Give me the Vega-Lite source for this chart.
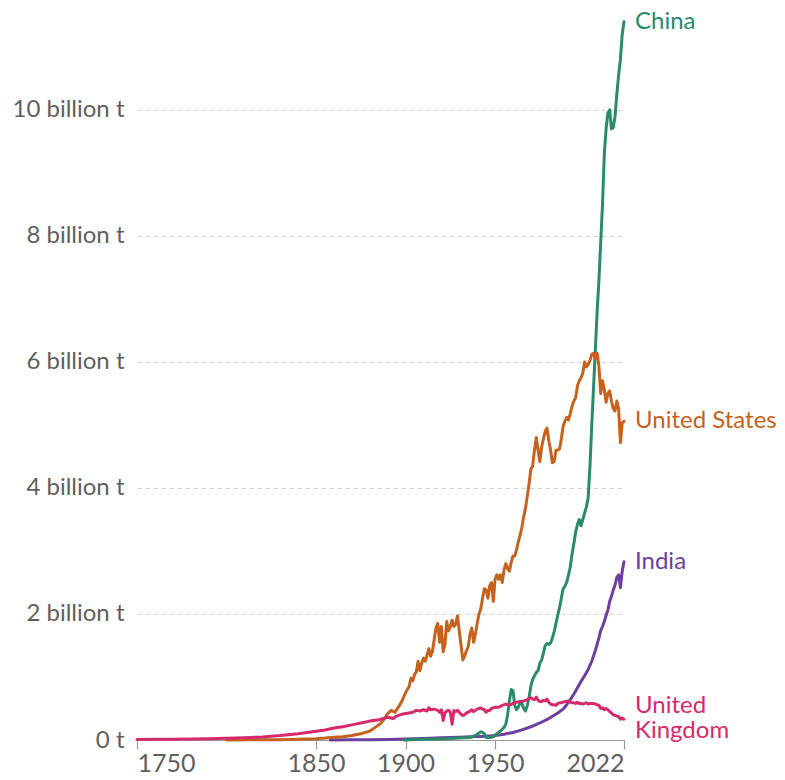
{
  "$schema": "https://vega.github.io/schema/vega-lite/v6.json",
  "autosize": "none",
  "padding": {"left": 137, "top": 16, "right": 161, "bottom": 40},
  "width": 487,
  "height": 724,
  "background": "white",
  "config": {"view": {"stroke": null}, "font": "Lato"},
  "datasets": {
    "labels": [
      {"country": "China", "label": "China"},
      {"country": "United States", "label": "United States"},
      {"country": "India", "label": "India"},
      {"country": "United Kingdom", "label": "United\nKingdom"}
    ],
    "series": [
      {"country": "India", "year": 1858, "value": 0.0003},
      {"country": "India", "year": 1870, "value": 0.002},
      {"country": "India", "year": 1880, "value": 0.004},
      {"country": "India", "year": 1890, "value": 0.008},
      {"country": "India", "year": 1900, "value": 0.016},
      {"country": "India", "year": 1910, "value": 0.025},
      {"country": "India", "year": 1920, "value": 0.035},
      {"country": "India", "year": 1930, "value": 0.045},
      {"country": "India", "year": 1940, "value": 0.055},
      {"country": "India", "year": 1945, "value": 0.06},
      {"country": "India", "year": 1950, "value": 0.07},
      {"country": "India", "year": 1955, "value": 0.09},
      {"country": "India", "year": 1960, "value": 0.12},
      {"country": "India", "year": 1965, "value": 0.16},
      {"country": "India", "year": 1970, "value": 0.21},
      {"country": "India", "year": 1975, "value": 0.27},
      {"country": "India", "year": 1980, "value": 0.34},
      {"country": "India", "year": 1985, "value": 0.43},
      {"country": "India", "year": 1988, "value": 0.49},
      {"country": "India", "year": 1990, "value": 0.56},
      {"country": "India", "year": 1992, "value": 0.64},
      {"country": "India", "year": 1994, "value": 0.73},
      {"country": "India", "year": 1996, "value": 0.83},
      {"country": "India", "year": 1998, "value": 0.93},
      {"country": "India", "year": 2000, "value": 1.02},
      {"country": "India", "year": 2002, "value": 1.12},
      {"country": "India", "year": 2004, "value": 1.25},
      {"country": "India", "year": 2006, "value": 1.42},
      {"country": "India", "year": 2007, "value": 1.52},
      {"country": "India", "year": 2008, "value": 1.62},
      {"country": "India", "year": 2009, "value": 1.74},
      {"country": "India", "year": 2010, "value": 1.8},
      {"country": "India", "year": 2011, "value": 1.88},
      {"country": "India", "year": 2012, "value": 1.98},
      {"country": "India", "year": 2013, "value": 2.06},
      {"country": "India", "year": 2014, "value": 2.2},
      {"country": "India", "year": 2015, "value": 2.28},
      {"country": "India", "year": 2016, "value": 2.38},
      {"country": "India", "year": 2017, "value": 2.46},
      {"country": "India", "year": 2018, "value": 2.58},
      {"country": "India", "year": 2019, "value": 2.62},
      {"country": "India", "year": 2020, "value": 2.42},
      {"country": "India", "year": 2021, "value": 2.68},
      {"country": "India", "year": 2022, "value": 2.83},

      {"country": "China", "year": 1899, "value": 0.001},
      {"country": "China", "year": 1910, "value": 0.01},
      {"country": "China", "year": 1920, "value": 0.015},
      {"country": "China", "year": 1930, "value": 0.03},
      {"country": "China", "year": 1936, "value": 0.04},
      {"country": "China", "year": 1938, "value": 0.06},
      {"country": "China", "year": 1940, "value": 0.09},
      {"country": "China", "year": 1942, "value": 0.13},
      {"country": "China", "year": 1943, "value": 0.12},
      {"country": "China", "year": 1944, "value": 0.1},
      {"country": "China", "year": 1945, "value": 0.04},
      {"country": "China", "year": 1947, "value": 0.04},
      {"country": "China", "year": 1949, "value": 0.05},
      {"country": "China", "year": 1950, "value": 0.08},
      {"country": "China", "year": 1952, "value": 0.12},
      {"country": "China", "year": 1954, "value": 0.17},
      {"country": "China", "year": 1955, "value": 0.2},
      {"country": "China", "year": 1956, "value": 0.25},
      {"country": "China", "year": 1957, "value": 0.4},
      {"country": "China", "year": 1958, "value": 0.62},
      {"country": "China", "year": 1959, "value": 0.8},
      {"country": "China", "year": 1960, "value": 0.78},
      {"country": "China", "year": 1961, "value": 0.55},
      {"country": "China", "year": 1962, "value": 0.48},
      {"country": "China", "year": 1963, "value": 0.52},
      {"country": "China", "year": 1964, "value": 0.6},
      {"country": "China", "year": 1965, "value": 0.58},
      {"country": "China", "year": 1966, "value": 0.5},
      {"country": "China", "year": 1967, "value": 0.46},
      {"country": "China", "year": 1968, "value": 0.55},
      {"country": "China", "year": 1969, "value": 0.68},
      {"country": "China", "year": 1970, "value": 0.86},
      {"country": "China", "year": 1971, "value": 0.96},
      {"country": "China", "year": 1972, "value": 1.02},
      {"country": "China", "year": 1973, "value": 1.07},
      {"country": "China", "year": 1974, "value": 1.1},
      {"country": "China", "year": 1975, "value": 1.22},
      {"country": "China", "year": 1976, "value": 1.27},
      {"country": "China", "year": 1977, "value": 1.38},
      {"country": "China", "year": 1978, "value": 1.5},
      {"country": "China", "year": 1979, "value": 1.53},
      {"country": "China", "year": 1980, "value": 1.52},
      {"country": "China", "year": 1981, "value": 1.54},
      {"country": "China", "year": 1982, "value": 1.62},
      {"country": "China", "year": 1983, "value": 1.72},
      {"country": "China", "year": 1984, "value": 1.85},
      {"country": "China", "year": 1985, "value": 1.98},
      {"country": "China", "year": 1986, "value": 2.1},
      {"country": "China", "year": 1987, "value": 2.25},
      {"country": "China", "year": 1988, "value": 2.4},
      {"country": "China", "year": 1989, "value": 2.44},
      {"country": "China", "year": 1990, "value": 2.5},
      {"country": "China", "year": 1991, "value": 2.62},
      {"country": "China", "year": 1992, "value": 2.75},
      {"country": "China", "year": 1993, "value": 2.95},
      {"country": "China", "year": 1994, "value": 3.12},
      {"country": "China", "year": 1995, "value": 3.3},
      {"country": "China", "year": 1996, "value": 3.42},
      {"country": "China", "year": 1997, "value": 3.5},
      {"country": "China", "year": 1998, "value": 3.4},
      {"country": "China", "year": 1999, "value": 3.5},
      {"country": "China", "year": 2000, "value": 3.6},
      {"country": "China", "year": 2001, "value": 3.7},
      {"country": "China", "year": 2002, "value": 3.85},
      {"country": "China", "year": 2003, "value": 4.35},
      {"country": "China", "year": 2004, "value": 5.0},
      {"country": "China", "year": 2005, "value": 5.6},
      {"country": "China", "year": 2006, "value": 6.2},
      {"country": "China", "year": 2007, "value": 6.8},
      {"country": "China", "year": 2008, "value": 7.3},
      {"country": "China", "year": 2009, "value": 7.9},
      {"country": "China", "year": 2010, "value": 8.5},
      {"country": "China", "year": 2011, "value": 9.3},
      {"country": "China", "year": 2012, "value": 9.7},
      {"country": "China", "year": 2013, "value": 9.95},
      {"country": "China", "year": 2014, "value": 10.0},
      {"country": "China", "year": 2015, "value": 9.7},
      {"country": "China", "year": 2016, "value": 9.72},
      {"country": "China", "year": 2017, "value": 9.9},
      {"country": "China", "year": 2018, "value": 10.25},
      {"country": "China", "year": 2019, "value": 10.55},
      {"country": "China", "year": 2020, "value": 10.8},
      {"country": "China", "year": 2021, "value": 11.2},
      {"country": "China", "year": 2022, "value": 11.4},

      {"country": "United States", "year": 1800, "value": 0.001},
      {"country": "United States", "year": 1820, "value": 0.003},
      {"country": "United States", "year": 1830, "value": 0.005},
      {"country": "United States", "year": 1840, "value": 0.01},
      {"country": "United States", "year": 1850, "value": 0.02},
      {"country": "United States", "year": 1855, "value": 0.03},
      {"country": "United States", "year": 1860, "value": 0.045},
      {"country": "United States", "year": 1865, "value": 0.05},
      {"country": "United States", "year": 1870, "value": 0.07},
      {"country": "United States", "year": 1875, "value": 0.1},
      {"country": "United States", "year": 1880, "value": 0.14},
      {"country": "United States", "year": 1883, "value": 0.2},
      {"country": "United States", "year": 1886, "value": 0.26},
      {"country": "United States", "year": 1888, "value": 0.33},
      {"country": "United States", "year": 1890, "value": 0.42},
      {"country": "United States", "year": 1892, "value": 0.47},
      {"country": "United States", "year": 1894, "value": 0.44},
      {"country": "United States", "year": 1896, "value": 0.52},
      {"country": "United States", "year": 1898, "value": 0.62},
      {"country": "United States", "year": 1900, "value": 0.75},
      {"country": "United States", "year": 1902, "value": 0.85},
      {"country": "United States", "year": 1903, "value": 0.98},
      {"country": "United States", "year": 1904, "value": 0.94},
      {"country": "United States", "year": 1905, "value": 1.04},
      {"country": "United States", "year": 1906, "value": 1.08},
      {"country": "United States", "year": 1907, "value": 1.25},
      {"country": "United States", "year": 1908, "value": 1.1},
      {"country": "United States", "year": 1909, "value": 1.22},
      {"country": "United States", "year": 1910, "value": 1.3},
      {"country": "United States", "year": 1911, "value": 1.25},
      {"country": "United States", "year": 1912, "value": 1.35},
      {"country": "United States", "year": 1913, "value": 1.45},
      {"country": "United States", "year": 1914, "value": 1.33},
      {"country": "United States", "year": 1915, "value": 1.4},
      {"country": "United States", "year": 1916, "value": 1.6},
      {"country": "United States", "year": 1917, "value": 1.78},
      {"country": "United States", "year": 1918, "value": 1.85},
      {"country": "United States", "year": 1919, "value": 1.55},
      {"country": "United States", "year": 1920, "value": 1.8},
      {"country": "United States", "year": 1921, "value": 1.4},
      {"country": "United States", "year": 1922, "value": 1.52},
      {"country": "United States", "year": 1923, "value": 1.88},
      {"country": "United States", "year": 1924, "value": 1.73},
      {"country": "United States", "year": 1925, "value": 1.8},
      {"country": "United States", "year": 1926, "value": 1.9},
      {"country": "United States", "year": 1927, "value": 1.8},
      {"country": "United States", "year": 1928, "value": 1.84},
      {"country": "United States", "year": 1929, "value": 1.97},
      {"country": "United States", "year": 1930, "value": 1.73},
      {"country": "United States", "year": 1931, "value": 1.5},
      {"country": "United States", "year": 1932, "value": 1.27},
      {"country": "United States", "year": 1933, "value": 1.33},
      {"country": "United States", "year": 1934, "value": 1.42},
      {"country": "United States", "year": 1935, "value": 1.48},
      {"country": "United States", "year": 1936, "value": 1.68},
      {"country": "United States", "year": 1937, "value": 1.78},
      {"country": "United States", "year": 1938, "value": 1.55},
      {"country": "United States", "year": 1939, "value": 1.68},
      {"country": "United States", "year": 1940, "value": 1.85},
      {"country": "United States", "year": 1941, "value": 2.0},
      {"country": "United States", "year": 1942, "value": 2.08},
      {"country": "United States", "year": 1943, "value": 2.25},
      {"country": "United States", "year": 1944, "value": 2.4},
      {"country": "United States", "year": 1945, "value": 2.38},
      {"country": "United States", "year": 1946, "value": 2.25},
      {"country": "United States", "year": 1947, "value": 2.45},
      {"country": "United States", "year": 1948, "value": 2.5},
      {"country": "United States", "year": 1949, "value": 2.2},
      {"country": "United States", "year": 1950, "value": 2.55},
      {"country": "United States", "year": 1951, "value": 2.62},
      {"country": "United States", "year": 1952, "value": 2.55},
      {"country": "United States", "year": 1953, "value": 2.62},
      {"country": "United States", "year": 1954, "value": 2.5},
      {"country": "United States", "year": 1955, "value": 2.7},
      {"country": "United States", "year": 1956, "value": 2.8},
      {"country": "United States", "year": 1957, "value": 2.72},
      {"country": "United States", "year": 1958, "value": 2.68},
      {"country": "United States", "year": 1959, "value": 2.82},
      {"country": "United States", "year": 1960, "value": 2.92},
      {"country": "United States", "year": 1961, "value": 2.92},
      {"country": "United States", "year": 1962, "value": 3.02},
      {"country": "United States", "year": 1963, "value": 3.15},
      {"country": "United States", "year": 1964, "value": 3.25},
      {"country": "United States", "year": 1965, "value": 3.38},
      {"country": "United States", "year": 1966, "value": 3.55},
      {"country": "United States", "year": 1967, "value": 3.68},
      {"country": "United States", "year": 1968, "value": 3.87},
      {"country": "United States", "year": 1969, "value": 4.07},
      {"country": "United States", "year": 1970, "value": 4.3},
      {"country": "United States", "year": 1971, "value": 4.35},
      {"country": "United States", "year": 1972, "value": 4.6},
      {"country": "United States", "year": 1973, "value": 4.8},
      {"country": "United States", "year": 1974, "value": 4.6},
      {"country": "United States", "year": 1975, "value": 4.42},
      {"country": "United States", "year": 1976, "value": 4.65},
      {"country": "United States", "year": 1977, "value": 4.78},
      {"country": "United States", "year": 1978, "value": 4.9},
      {"country": "United States", "year": 1979, "value": 4.95},
      {"country": "United States", "year": 1980, "value": 4.75},
      {"country": "United States", "year": 1981, "value": 4.6},
      {"country": "United States", "year": 1982, "value": 4.4},
      {"country": "United States", "year": 1983, "value": 4.42},
      {"country": "United States", "year": 1984, "value": 4.6},
      {"country": "United States", "year": 1985, "value": 4.6},
      {"country": "United States", "year": 1986, "value": 4.62},
      {"country": "United States", "year": 1987, "value": 4.78},
      {"country": "United States", "year": 1988, "value": 4.98},
      {"country": "United States", "year": 1989, "value": 5.06},
      {"country": "United States", "year": 1990, "value": 5.12},
      {"country": "United States", "year": 1991, "value": 5.08},
      {"country": "United States", "year": 1992, "value": 5.18},
      {"country": "United States", "year": 1993, "value": 5.3},
      {"country": "United States", "year": 1994, "value": 5.38},
      {"country": "United States", "year": 1995, "value": 5.43},
      {"country": "United States", "year": 1996, "value": 5.62},
      {"country": "United States", "year": 1997, "value": 5.7},
      {"country": "United States", "year": 1998, "value": 5.75},
      {"country": "United States", "year": 1999, "value": 5.82},
      {"country": "United States", "year": 2000, "value": 6.0},
      {"country": "United States", "year": 2001, "value": 5.92},
      {"country": "United States", "year": 2002, "value": 5.96},
      {"country": "United States", "year": 2003, "value": 6.02},
      {"country": "United States", "year": 2004, "value": 6.12},
      {"country": "United States", "year": 2005, "value": 6.14},
      {"country": "United States", "year": 2006, "value": 6.05},
      {"country": "United States", "year": 2007, "value": 6.14},
      {"country": "United States", "year": 2008, "value": 5.93},
      {"country": "United States", "year": 2009, "value": 5.5},
      {"country": "United States", "year": 2010, "value": 5.7},
      {"country": "United States", "year": 2011, "value": 5.56},
      {"country": "United States", "year": 2012, "value": 5.36},
      {"country": "United States", "year": 2013, "value": 5.5},
      {"country": "United States", "year": 2014, "value": 5.54},
      {"country": "United States", "year": 2015, "value": 5.38},
      {"country": "United States", "year": 2016, "value": 5.26},
      {"country": "United States", "year": 2017, "value": 5.22},
      {"country": "United States", "year": 2018, "value": 5.38},
      {"country": "United States", "year": 2019, "value": 5.26},
      {"country": "United States", "year": 2020, "value": 4.72},
      {"country": "United States", "year": 2021, "value": 5.03},
      {"country": "United States", "year": 2022, "value": 5.06},

      {"country": "United Kingdom", "year": 1750, "value": 0.009},
      {"country": "United Kingdom", "year": 1760, "value": 0.01},
      {"country": "United Kingdom", "year": 1770, "value": 0.012},
      {"country": "United Kingdom", "year": 1780, "value": 0.014},
      {"country": "United Kingdom", "year": 1790, "value": 0.019},
      {"country": "United Kingdom", "year": 1800, "value": 0.026},
      {"country": "United Kingdom", "year": 1810, "value": 0.035},
      {"country": "United Kingdom", "year": 1820, "value": 0.048},
      {"country": "United Kingdom", "year": 1830, "value": 0.07},
      {"country": "United Kingdom", "year": 1840, "value": 0.1},
      {"country": "United Kingdom", "year": 1850, "value": 0.14},
      {"country": "United Kingdom", "year": 1855, "value": 0.16},
      {"country": "United Kingdom", "year": 1860, "value": 0.19},
      {"country": "United Kingdom", "year": 1865, "value": 0.21},
      {"country": "United Kingdom", "year": 1870, "value": 0.24},
      {"country": "United Kingdom", "year": 1875, "value": 0.27},
      {"country": "United Kingdom", "year": 1880, "value": 0.3},
      {"country": "United Kingdom", "year": 1885, "value": 0.32},
      {"country": "United Kingdom", "year": 1890, "value": 0.36},
      {"country": "United Kingdom", "year": 1893, "value": 0.34},
      {"country": "United Kingdom", "year": 1895, "value": 0.38},
      {"country": "United Kingdom", "year": 1898, "value": 0.41},
      {"country": "United Kingdom", "year": 1900, "value": 0.42},
      {"country": "United Kingdom", "year": 1902, "value": 0.43},
      {"country": "United Kingdom", "year": 1904, "value": 0.44},
      {"country": "United Kingdom", "year": 1906, "value": 0.47},
      {"country": "United Kingdom", "year": 1908, "value": 0.46},
      {"country": "United Kingdom", "year": 1910, "value": 0.48},
      {"country": "United Kingdom", "year": 1912, "value": 0.46},
      {"country": "United Kingdom", "year": 1913, "value": 0.51},
      {"country": "United Kingdom", "year": 1914, "value": 0.48},
      {"country": "United Kingdom", "year": 1916, "value": 0.49},
      {"country": "United Kingdom", "year": 1918, "value": 0.47},
      {"country": "United Kingdom", "year": 1919, "value": 0.44},
      {"country": "United Kingdom", "year": 1920, "value": 0.48},
      {"country": "United Kingdom", "year": 1921, "value": 0.31},
      {"country": "United Kingdom", "year": 1922, "value": 0.43},
      {"country": "United Kingdom", "year": 1923, "value": 0.46},
      {"country": "United Kingdom", "year": 1924, "value": 0.47},
      {"country": "United Kingdom", "year": 1925, "value": 0.44},
      {"country": "United Kingdom", "year": 1926, "value": 0.25},
      {"country": "United Kingdom", "year": 1927, "value": 0.47},
      {"country": "United Kingdom", "year": 1928, "value": 0.45},
      {"country": "United Kingdom", "year": 1929, "value": 0.47},
      {"country": "United Kingdom", "year": 1930, "value": 0.44},
      {"country": "United Kingdom", "year": 1931, "value": 0.41},
      {"country": "United Kingdom", "year": 1932, "value": 0.39},
      {"country": "United Kingdom", "year": 1933, "value": 0.4},
      {"country": "United Kingdom", "year": 1934, "value": 0.43},
      {"country": "United Kingdom", "year": 1935, "value": 0.44},
      {"country": "United Kingdom", "year": 1936, "value": 0.46},
      {"country": "United Kingdom", "year": 1937, "value": 0.48},
      {"country": "United Kingdom", "year": 1938, "value": 0.45},
      {"country": "United Kingdom", "year": 1939, "value": 0.47},
      {"country": "United Kingdom", "year": 1940, "value": 0.49},
      {"country": "United Kingdom", "year": 1941, "value": 0.5},
      {"country": "United Kingdom", "year": 1942, "value": 0.51},
      {"country": "United Kingdom", "year": 1943, "value": 0.49},
      {"country": "United Kingdom", "year": 1944, "value": 0.48},
      {"country": "United Kingdom", "year": 1945, "value": 0.44},
      {"country": "United Kingdom", "year": 1946, "value": 0.47},
      {"country": "United Kingdom", "year": 1947, "value": 0.47},
      {"country": "United Kingdom", "year": 1948, "value": 0.5},
      {"country": "United Kingdom", "year": 1949, "value": 0.51},
      {"country": "United Kingdom", "year": 1950, "value": 0.52},
      {"country": "United Kingdom", "year": 1952, "value": 0.52},
      {"country": "United Kingdom", "year": 1954, "value": 0.55},
      {"country": "United Kingdom", "year": 1956, "value": 0.57},
      {"country": "United Kingdom", "year": 1958, "value": 0.55},
      {"country": "United Kingdom", "year": 1960, "value": 0.58},
      {"country": "United Kingdom", "year": 1962, "value": 0.6},
      {"country": "United Kingdom", "year": 1964, "value": 0.61},
      {"country": "United Kingdom", "year": 1966, "value": 0.62},
      {"country": "United Kingdom", "year": 1968, "value": 0.64},
      {"country": "United Kingdom", "year": 1970, "value": 0.67},
      {"country": "United Kingdom", "year": 1971, "value": 0.65},
      {"country": "United Kingdom", "year": 1972, "value": 0.64},
      {"country": "United Kingdom", "year": 1973, "value": 0.68},
      {"country": "United Kingdom", "year": 1974, "value": 0.63},
      {"country": "United Kingdom", "year": 1975, "value": 0.61},
      {"country": "United Kingdom", "year": 1976, "value": 0.61},
      {"country": "United Kingdom", "year": 1977, "value": 0.63},
      {"country": "United Kingdom", "year": 1978, "value": 0.62},
      {"country": "United Kingdom", "year": 1979, "value": 0.65},
      {"country": "United Kingdom", "year": 1980, "value": 0.6},
      {"country": "United Kingdom", "year": 1981, "value": 0.57},
      {"country": "United Kingdom", "year": 1982, "value": 0.56},
      {"country": "United Kingdom", "year": 1983, "value": 0.56},
      {"country": "United Kingdom", "year": 1984, "value": 0.55},
      {"country": "United Kingdom", "year": 1985, "value": 0.58},
      {"country": "United Kingdom", "year": 1986, "value": 0.59},
      {"country": "United Kingdom", "year": 1987, "value": 0.59},
      {"country": "United Kingdom", "year": 1988, "value": 0.6},
      {"country": "United Kingdom", "year": 1989, "value": 0.61},
      {"country": "United Kingdom", "year": 1990, "value": 0.61},
      {"country": "United Kingdom", "year": 1991, "value": 0.62},
      {"country": "United Kingdom", "year": 1992, "value": 0.6},
      {"country": "United Kingdom", "year": 1993, "value": 0.59},
      {"country": "United Kingdom", "year": 1994, "value": 0.59},
      {"country": "United Kingdom", "year": 1995, "value": 0.58},
      {"country": "United Kingdom", "year": 1996, "value": 0.6},
      {"country": "United Kingdom", "year": 1997, "value": 0.58},
      {"country": "United Kingdom", "year": 1998, "value": 0.58},
      {"country": "United Kingdom", "year": 1999, "value": 0.57},
      {"country": "United Kingdom", "year": 2000, "value": 0.58},
      {"country": "United Kingdom", "year": 2001, "value": 0.59},
      {"country": "United Kingdom", "year": 2002, "value": 0.57},
      {"country": "United Kingdom", "year": 2003, "value": 0.58},
      {"country": "United Kingdom", "year": 2004, "value": 0.58},
      {"country": "United Kingdom", "year": 2005, "value": 0.58},
      {"country": "United Kingdom", "year": 2006, "value": 0.57},
      {"country": "United Kingdom", "year": 2007, "value": 0.56},
      {"country": "United Kingdom", "year": 2008, "value": 0.55},
      {"country": "United Kingdom", "year": 2009, "value": 0.5},
      {"country": "United Kingdom", "year": 2010, "value": 0.51},
      {"country": "United Kingdom", "year": 2011, "value": 0.48},
      {"country": "United Kingdom", "year": 2012, "value": 0.5},
      {"country": "United Kingdom", "year": 2013, "value": 0.48},
      {"country": "United Kingdom", "year": 2014, "value": 0.45},
      {"country": "United Kingdom", "year": 2015, "value": 0.43},
      {"country": "United Kingdom", "year": 2016, "value": 0.4},
      {"country": "United Kingdom", "year": 2017, "value": 0.39},
      {"country": "United Kingdom", "year": 2018, "value": 0.38},
      {"country": "United Kingdom", "year": 2019, "value": 0.37},
      {"country": "United Kingdom", "year": 2020, "value": 0.33},
      {"country": "United Kingdom", "year": 2021, "value": 0.35},
      {"country": "United Kingdom", "year": 2022, "value": 0.33}
    ]
  },
  "encoding": {
    "x": {
      "field": "year", "type": "quantitative",
      "scale": {"domain": [1750, 2022], "nice": false, "zero": false},
      "axis": {
        "title": null, "values": [1750, 1850, 1900, 1950, 2022], "format": "d",
        "labelFlush": true, "labelOverlap": false, "grid": false,
        "domainColor": "#9a9a9a", "domainWidth": 1.2, "tickColor": "#9a9a9a", "tickWidth": 1.2, "tickSize": 9,
        "labelFont": "Lato", "labelFontSize": 25, "labelColor": "#5f5f5f", "labelPadding": 2
      }
    },
    "y": {
      "field": "value", "type": "quantitative",
      "scale": {"domain": [0, 11.49], "nice": false},
      "axis": {
        "title": null, "values": [0, 2, 4, 6, 8, 10],
        "labelExpr": "datum.value == 0 ? '0 t' : datum.value + ' billion t'",
        "domain": false, "ticks": false, "grid": true, "gridColor": "#cfcfcf", "gridDash": [4, 4], "gridWidth": 1,
        "labelFont": "Lato", "labelFontSize": 24, "labelColor": "#5f5f5f", "labelPadding": 13
      }
    },
    "color": {
      "field": "country", "type": "nominal",
      "scale": {"domain": ["China", "United States", "India", "United Kingdom"], "range": ["#2a8a6a", "#c4621e", "#6c3e9e", "#d62a6c"]},
      "legend": null
    }
  },
  "layer": [
    {
      "data": {"name": "series"},
      "mark": {"type": "line", "strokeWidth": 3, "strokeJoin": "round", "strokeCap": "round"}
    },
    {
      "data": {"name": "series"},
      "transform": [
        {"filter": "datum.year == 2022 && datum.country != 'United Kingdom'"},
        {"lookup": "country", "from": {"data": {"name": "labels"}, "key": "country", "fields": ["label"]}}
      ],
      "mark": {"type": "text", "align": "left", "baseline": "middle", "dx": 11, "font": "Lato", "fontSize": 24},
      "encoding": {"text": {"field": "label"}}
    },
    {
      "data": {"name": "series"},
      "transform": [
        {"filter": "datum.year == 2022 && datum.country == 'United Kingdom'"},
        {"lookup": "country", "from": {"data": {"name": "labels"}, "key": "country", "fields": ["label"]}}
      ],
      "mark": {"type": "text", "align": "left", "baseline": "line-bottom", "dx": 11, "font": "Lato", "fontSize": 24, "lineBreak": "\n", "lineHeight": 25},
      "encoding": {"text": {"field": "label"}}
    }
  ]
}
